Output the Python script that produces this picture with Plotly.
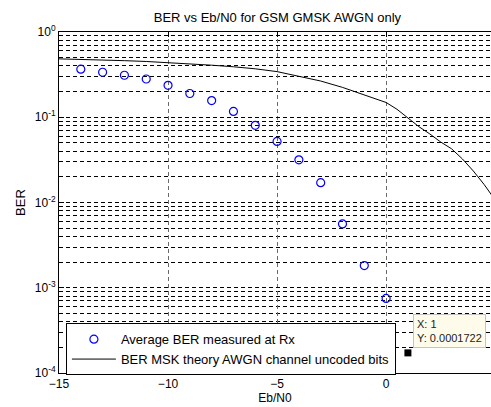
import math
import plotly.graph_objects as go

# Measured average BER (GSM GMSK over AWGN)
ebn0_measured = [-14, -13, -12, -11, -10, -9, -8, -7, -6, -5, -4, -3, -2, -1, 0, 1]
ber_measured = [0.366, 0.337, 0.311, 0.281, 0.237, 0.190, 0.157, 0.117, 0.0805,
                0.0521, 0.0317, 0.0171, 0.0056, 0.00182, 0.00075, 0.0001722]

# Theoretical MSK curve, uncoded bits
ebn0_theory = [-15, -14, -13, -12, -11, -10, -9, -8, -7, -6, -5, -4, -3, -2, -1,
               0, 0.5, 1, 1.5, 2, 2.5, 3, 3.5, 4, 4.5, 5]
ber_theory = [0.484, 0.478, 0.471, 0.461, 0.451, 0.438, 0.424, 0.408, 0.391, 0.370,
              0.343, 0.305, 0.266, 0.224, 0.184, 0.149, 0.124, 0.0989, 0.0776,
              0.0638, 0.0513, 0.0427, 0.0324, 0.0234, 0.0162, 0.0107]

# Data tip pinned on the last measured point
tip_x = ebn0_measured[-1]
tip_y = ber_measured[-1]

x_ticks = [-15, -10, -5, 0, 5]
y_major = [1e-4, 1e-3, 1e-2, 1e-1, 1]
y_major_text = ["10<sup>-4</sup>", "10<sup>-3</sup>", "10<sup>-2</sup>",
                "10<sup>-1</sup>", "10<sup>0</sup>"]
y_minor = [k * 10.0 ** e for e in range(-4, 0) for k in range(2, 10)]

FONT = "Liberation Sans, Arial, sans-serif"

fig = go.Figure()
# circles for the measured points; the tipped point is shown by the tip marker
fig.add_trace(go.Scatter(
    x=ebn0_measured[:-1], y=ber_measured[:-1], mode="markers",
    name="Average BER measured at Rx",
    marker=dict(symbol="circle-open", size=8, color="#0000ff",
                line=dict(width=1.2, color="#0000ff")),
))
fig.add_trace(go.Scatter(
    x=ebn0_theory, y=ber_theory, mode="lines",
    name="BER MSK theory AWGN channel uncoded bits",
    line=dict(color="black", width=1),
))
fig.add_trace(go.Scatter(
    x=[tip_x], y=[tip_y], mode="markers", showlegend=False, hoverinfo="skip",
    marker=dict(symbol="square", size=7, color="black"),
))

fig.add_annotation(
    x=tip_x, y=math.log10(tip_y), xref="x", yref="y",
    text=f"X: {tip_x}<br>Y: {tip_y}", showarrow=False, align="left",
    xanchor="left", yanchor="bottom", xshift=5, yshift=5,
    bgcolor="#fffbeb", bordercolor="#c4c4c4", borderwidth=1, borderpad=3,
    font=dict(family=FONT, size=11, color="#222222"),
)

fig.update_layout(
    width=491, height=407,
    margin=dict(l=59, r=0, t=32, b=34),
    paper_bgcolor="white", plot_bgcolor="white",
    font=dict(family=FONT, size=11, color="black"),
    title=dict(text="BER vs Eb/N0 for GSM GMSK AWGN only",
               x=0.565, xanchor="center", y=0.958, yanchor="middle",
               font=dict(family=FONT, size=13, color="black")),
    legend=dict(x=0.016, y=0.146, xanchor="left", yanchor="top",
                bgcolor="white", bordercolor="black", borderwidth=1,
                font=dict(family=FONT, size=13, color="black"),
                itemwidth=44, tracegroupgap=0),
    showlegend=True,
)

fig.update_xaxes(
    range=[-15, 4.81], tickvals=x_ticks, ticks="inside", ticklen=5,
    tickcolor="black", showline=True, linecolor="black", linewidth=1,
    mirror="ticks", showgrid=True, gridcolor="#6a6a6a", griddash="4px,3px",
    gridwidth=1, zeroline=False,
    title=dict(text="Eb/N0", font=dict(family=FONT, size=12), standoff=0),
    tickfont=dict(family=FONT, size=12),
)
fig.update_yaxes(
    type="log", range=[-4, 0], tickvals=y_major, ticktext=y_major_text,
    ticks="inside", ticklen=5, tickcolor="black",
    showline=True, linecolor="black", linewidth=1, mirror=False,
    showgrid=True, gridcolor="black", griddash="4px,3px", gridwidth=1,
    zeroline=False,
    minor=dict(tickvals=y_minor, ticks="inside", ticklen=3, tickcolor="black",
               showgrid=True, gridcolor="black", griddash="4px,3px", gridwidth=1),
    title=dict(text="BER", font=dict(family=FONT, size=13), standoff=6),
    tickfont=dict(family=FONT, size=12),
)

fig.write_html("out.html")
